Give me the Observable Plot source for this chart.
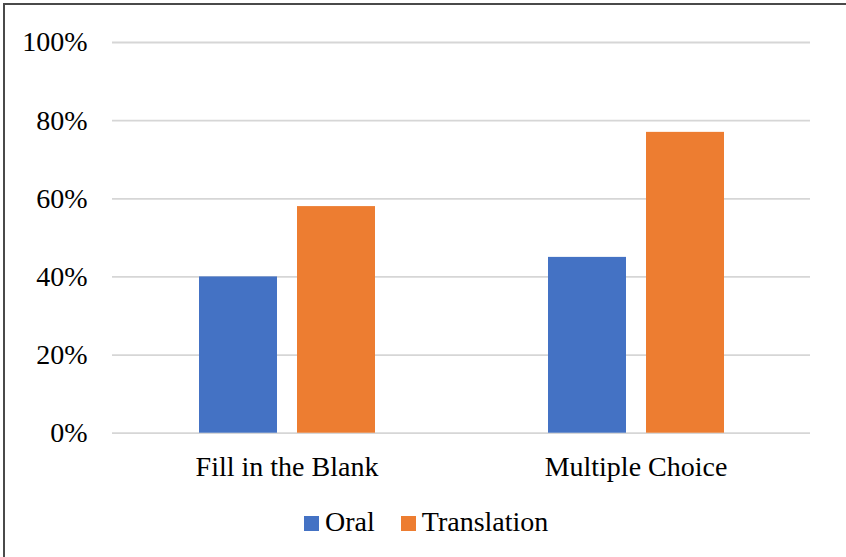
<!DOCTYPE html>
<html>
<head>
<meta charset="utf-8">
<script src="https://cdn.jsdelivr.net/npm/d3@7"></script>
<script src="https://cdn.jsdelivr.net/npm/@observablehq/plot@0.6"></script>
<style>
  body { margin: 0; background: #fff; }
  #wrap { position: relative; width: 846px; height: 557px; overflow: hidden; background: #fff;
          font-family: "Liberation Serif", "Times New Roman", serif; color: #000; }
  #frame { position: absolute; left: 3px; top: 3px; right: -10px; bottom: -10px;
           border-left: 2px solid #4a4a4a; border-top: 2px solid #4a4a4a; pointer-events: none; }
  #chart { position: absolute; left: 0; top: 0; }
  #legend { position: absolute; top: 508px; left: 304px; display: flex; align-items: baseline;
            font-size: 28px; line-height: 1; }
  #legend .sw { display: inline-block; width: 15px; height: 15px; margin-right: 6px; }
  #legend .item { display: flex; align-items: baseline; margin-right: 26px; }
</style>
</head>
<body>
<div id="wrap">
  <div id="chart"></div>
  <div id="legend"></div>
  <div id="frame"></div>
</div>
<script>
const categories = ["Fill in the Blank", "Multiple Choice"];
const series = ["Oral", "Translation"];
const oral = [0.40, 0.45];
const translation = [0.58, 0.77];
const colors = ["#4472C4", "#ED7D31"];
const yTicks = [0, 0.2, 0.4, 0.6, 0.8, 1.0];

const values = { Oral: oral, Translation: translation };
const data = [];
categories.forEach((c, i) => series.forEach(s => data.push({ category: c, series: s, value: values[s][i] })));

const font = '"Liberation Serif", "Times New Roman", serif';

const plot = Plot.plot({
  width: 846,
  height: 495,
  marginTop: 42,
  marginBottom: 62.3,
  marginLeft: 111,
  marginRight: 36,
  style: { fontFamily: font, fontSize: "28px", color: "#000", background: "transparent", overflow: "visible" },
  fx: { domain: categories, padding: 0, label: null },
  x: { domain: series, paddingInner: 0.209, paddingOuter: 0.87, axis: null },
  y: { domain: [0, 1], label: null },
  color: { domain: series, range: colors },
  marks: [
    Plot.gridY(yTicks, { stroke: "#d6d6d6", strokeOpacity: 1, strokeWidth: 1.8 }),
    Plot.barY(data, { fx: "category", x: "series", y: "value", fill: "series" }),
    Plot.axisY(yTicks, { tickFormat: d3.format(".0%"), tickSize: 0, tickPadding: 25, label: null, fontSize: 28, fill: "#000" }),
    Plot.axisFx({ anchor: "bottom", tickSize: 0, tickPadding: 22.5, label: null, fontSize: 28, fill: "#000" })
  ]
});
document.getElementById("chart").appendChild(plot);

const legend = document.getElementById("legend");
series.forEach((s, i) => {
  const item = document.createElement("div");
  item.className = "item";
  const sw = document.createElement("span");
  sw.className = "sw";
  sw.style.background = colors[i];
  const t = document.createElement("span");
  t.textContent = s;
  item.appendChild(sw);
  item.appendChild(t);
  legend.appendChild(item);
});
</script>
</body>
</html>
